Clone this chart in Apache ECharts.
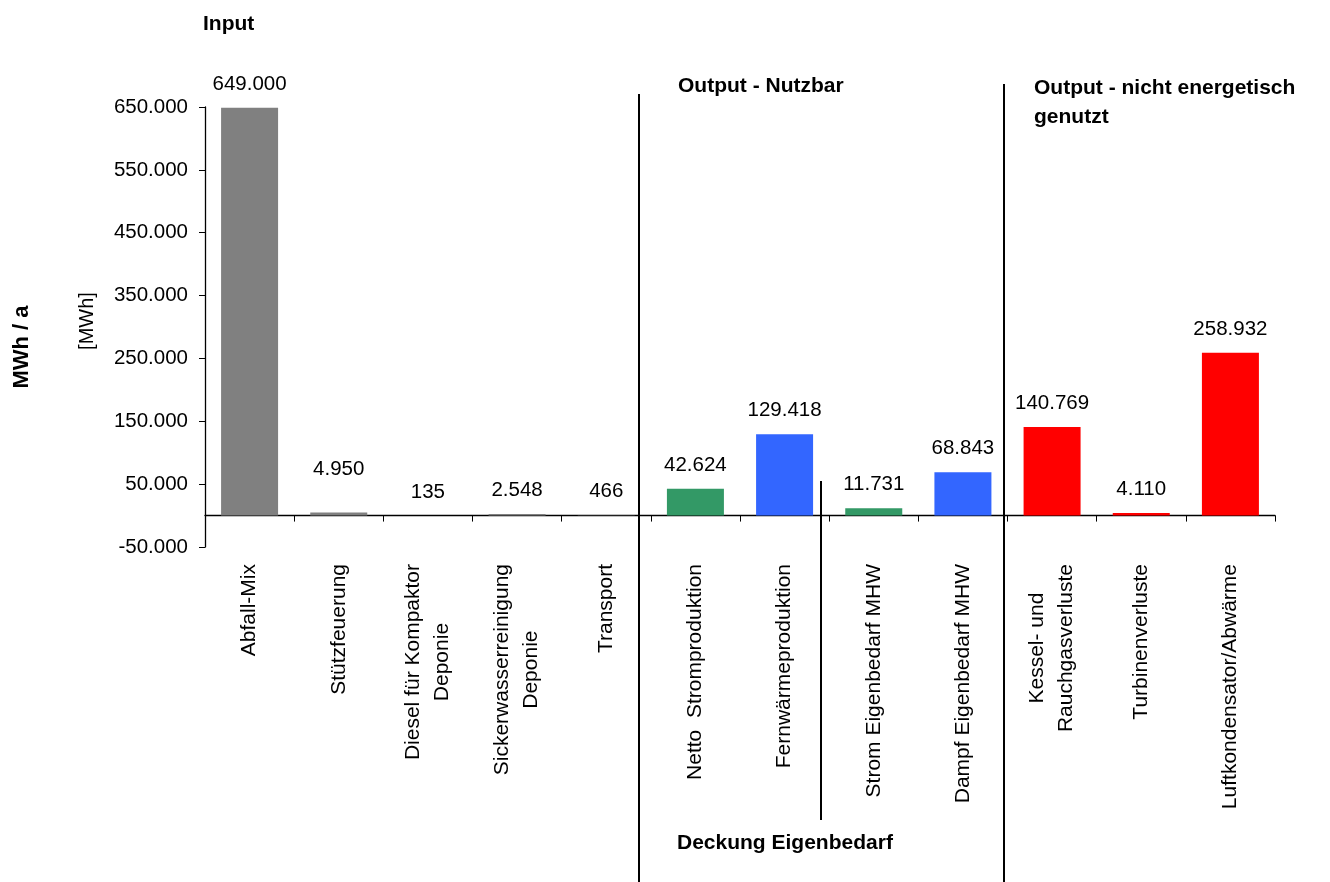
<!DOCTYPE html>
<html><head><meta charset="utf-8">
<script src="https://cdn.jsdelivr.net/npm/echarts@6/dist/echarts.min.js"></script>
<style>html,body{margin:0;padding:0;background:#fff}#c{width:1330px;height:882px}</style>
</head><body><div id="c"></div>
<script>
// ---- data ----
const categories = [
  'Abfall-Mix',
  'Stützfeuerung',
  'Diesel für Kompaktor\nDeponie',
  'Sickerwasserreinigung\nDeponie',
  'Transport',
  'Netto  Stromproduktion',
  'Fernwärmeproduktion',
  'Strom Eigenbedarf MHW',
  'Dampf Eigenbedarf MHW',
  'Kessel- und\nRauchgasverluste',
  'Turbinenverluste',
  'Luftkondensator/Abwärme'
];
const values = [649000, 4950, 135, 2548, 466, 42624, 129418, 11731, 68843, 140769, 4110, 258932];
const groups = ['input', 'input', 'input', 'input', 'input', 'strom', 'waerme', 'strom', 'waerme', 'verlust', 'verlust', 'verlust'];
const yMin = -50000, yMax = 650000, yStep = 100000;
const sectionTitles = ['Input', 'Output - Nutzbar', 'Output - nicht energetisch\ngenutzt', 'Deckung Eigenbedarf'];
const axisTitleOuter = 'MWh / a';
const axisTitleInner = '[MWh]';

// ---- styles ----
const FONT = '"Liberation Sans", Arial, Helvetica, sans-serif';
const groupColors = { input: '#808080', strom: '#339966', waerme: '#3366FF', verlust: '#FF0000' };
const labelOffsets = { 1: [0, -20] };

function de(v) {
  const s = Math.abs(v).toString().replace(/\B(?=(\d{3})+(?!\d))/g, '.');
  return (v < 0 ? '-' : '') + s;
}

const chart = echarts.init(document.getElementById('c'), null, { renderer: 'canvas' });

const barData = values.map((v, i) => ({
  value: v,
  itemStyle: { color: groupColors[groups[i]] },
  label: labelOffsets[i] ? { offset: labelOffsets[i] } : undefined
}));

const option = {
  backgroundColor: '#ffffff',
  animation: false,
  textStyle: { fontFamily: FONT },
  grid: { left: 205, right: 55, top: 107, bottom: 335, containLabel: false },
  xAxis: {
    type: 'category',
    data: categories,
    boundaryGap: true,
    axisLine: { show: true, onZero: true, lineStyle: { color: '#000', width: 1.3 } },
    axisTick: { show: true, length: 6, inside: false, alignWithLabel: false, interval: 0, lineStyle: { color: '#000' } },
    axisLabel: {
      interval: 0,
      rotate: 90,
      margin: 17,
      color: '#000',
      fontFamily: FONT,
      fontSize: 21,
      formatter: function (val) {
        return val.split('\n').map(l => '{c|' + l + '}').join('\n');
      },
      rich: { c: { fontSize: 21, fontFamily: FONT, color: '#000', lineHeight: 29, align: 'center' } }
    },
    splitLine: { show: false }
  },
  yAxis: {
    type: 'value',
    min: yMin,
    max: yMax,
    interval: yStep,
    axisLine: { show: true, lineStyle: { color: '#000', width: 1.3 } },
    axisTick: { show: true, length: 6, lineStyle: { color: '#000' } },
    axisLabel: { color: '#000', fontSize: 20.5, fontFamily: FONT, margin: 17, formatter: de },
    splitLine: { show: false }
  },
  series: [{
    type: 'bar',
    data: barData,
    barWidth: 57,
    label: {
      show: true,
      position: 'top',
      distance: 13,
      color: '#000',
      fontSize: 20.5,
      fontFamily: FONT,
      formatter: p => de(p.value)
    }
  }],
  graphic: [
    // section titles
    { type: 'text', left: 203, top: 14, style: { text: sectionTitles[0], font: 'bold 21px ' + FONT, fill: '#000' } },
    { type: 'text', left: 678, top: 76, style: { text: sectionTitles[1], font: 'bold 21px ' + FONT, fill: '#000' } },
    { type: 'text', left: 1034, top: 74, style: { text: sectionTitles[2], font: 'bold 21px ' + FONT, fill: '#000', lineHeight: 29 } },
    { type: 'text', left: 677, top: 833, style: { text: sectionTitles[3], font: 'bold 21px ' + FONT, fill: '#000' } },
    // axis titles
    { type: 'text', x: 22, y: 347, rotation: Math.PI / 2,
      style: { text: axisTitleOuter, font: 'bold 22px ' + FONT, fill: '#000', align: 'center', verticalAlign: 'middle' } },
    { type: 'text', x: 87, y: 321, rotation: Math.PI / 2,
      style: { text: axisTitleInner, font: '20px ' + FONT, fill: '#000', align: 'center', verticalAlign: 'middle' } },
    // separators
    { type: 'line', shape: { x1: 639, y1: 94, x2: 639, y2: 882 }, style: { stroke: '#000', lineWidth: 2 } },
    { type: 'line', shape: { x1: 821, y1: 481, x2: 821, y2: 820 }, style: { stroke: '#000', lineWidth: 2 } },
    { type: 'line', shape: { x1: 1004, y1: 84, x2: 1004, y2: 882 }, style: { stroke: '#000', lineWidth: 2 } }
  ]
};
chart.setOption(option);
</script></body></html>
